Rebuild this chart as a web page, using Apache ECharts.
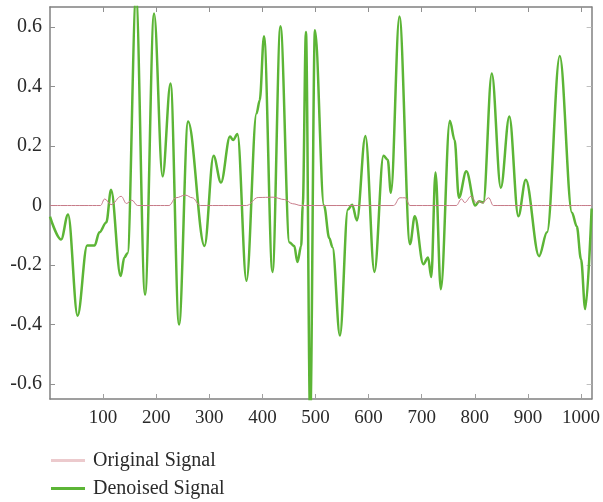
<!DOCTYPE html>
<html>
<head>
<meta charset="utf-8">
<title>Signal</title>
<script src="https://cdn.jsdelivr.net/npm/echarts@6/dist/echarts.min.js"></script>
<style>
  html, body { margin: 0; padding: 0; background: #fff; }
  #chart { width: 603px; height: 502px; }
</style>
</head>
<body>
<div id="chart"></div>
<script>
// 去噪信号
var denoisedX = [0, 21, 34, 52, 70, 84, 93, 106, 115, 133, 140, 146, 162, 179, 196, 212, 227, 243, 260,
  291, 308, 322, 339, 345, 353, 370, 389, 395, 403, 419, 434, 451, 460, 466, 473, 476, 482, 490, 499,
  516, 526, 532, 546, 561, 569, 578, 594, 611, 628, 636, 642, 658, 678, 687, 703, 712, 718, 726, 736,
  753, 762, 770, 784, 801, 808, 816, 832, 849, 865, 882, 896, 921, 936, 960, 983, 992, 1000, 1008, 1020];
var denoisedY = [-0.037, -0.114, -0.03, -0.37, -0.134, -0.134, -0.09, -0.057, 0.053, -0.237, -0.175, -0.16, 0.70, -0.30, 0.645, 0.098, 0.41, -0.40, 0.282,
  -0.136, 0.167, 0.077, 0.232, 0.22, 0.24, -0.253, 0.31, 0.354, 0.569, -0.223, 0.602, -0.124, -0.136, -0.19, -0.136, 0, 0.583, -0.72, 0.589,
  0, -0.11, -0.14, -0.437, -0.013, 0.003, -0.05, 0.234, -0.223, 0.167, 0.154, 0.043, 0.635, -0.13, -0.036, -0.197, -0.175, -0.24, 0.111, -0.281,
  0.285, 0.22, 0.026, 0.115, 0, 0.014, 0.01, 0.444, 0.06, 0.299, -0.036, 0.087, -0.17, -0.09, 0.502, -0.024, -0.07, -0.18, -0.348, -0.01];

// 原始信号
var originalX = [0, 95, 103, 115, 134, 144, 154, 165, 224, 237, 255, 268, 283, 370, 392, 420, 442, 457, 473,
  647, 659, 669, 678, 765, 775, 781, 793, 803, 809, 814, 826, 835, 1020];
var originalY = [0, 0, 0.022, 0.003, 0.031, 0.007, 0.018, 0, 0, 0.026, 0.035, 0.026, 0, 0, 0.027, 0.028, 0.02, 0.006, 0,
  0, 0.026, 0.026, 0, 0, 0.022, 0.01, 0.031, 0.01, 0.014, 0.008, 0.026, 0, 0];

var xTicks = [100, 200, 300, 400, 500, 600, 700, 800, 900, 1000];
var yTicks = [-0.6, -0.4, -0.2, 0, 0.2, 0.4, 0.6];
var seriesNames = ['Original Signal', 'Denoised Signal'];

function pairs(xs, ys) {
  var out = [];
  for (var i = 0; i < xs.length; i++) {
    out.push([xs[i], ys[i]]);
  }
  return out;
}

var fontFamily = '"Liberation Serif", "DejaVu Serif", serif';
var axisColor = '#808080';

var chart = echarts.init(document.getElementById('chart'));
chart.setOption({
  animation: false,
  grid: {
    left: 50,
    right: 7,
    top: 7,
    bottom: 103
  },
  legend: {
    orient: 'vertical',
    left: 51,
    top: 450,
    padding: 0,
    itemWidth: 34,
    itemHeight: 3,
    itemGap: 7,
    textStyle: {
      fontFamily: fontFamily,
      fontSize: 20,
      lineHeight: 21,
      color: '#2a2a2a',
      padding: [0, 0, 0, 3]
    },
    data: [{
      name: seriesNames[0],
      icon: 'rect',
      itemStyle: { color: '#eccacd' }
    }, {
      name: seriesNames[1],
      icon: 'rect',
      itemStyle: { color: '#5cb536' }
    }]
  },
  xAxis: [{
    type: 'value',
    min: 0,
    max: 1020,
    axisLine: { onZero: false, lineStyle: { color: axisColor, width: 1.5 } },
    axisTick: {
      inside: true,
      length: 5,
      customValues: xTicks,
      lineStyle: { color: '#a0a0a0' }
    },
    axisLabel: {
      customValues: xTicks,
      margin: 10,
      fontFamily: fontFamily,
      fontSize: 19,
      color: '#2a2a2a',
      formatter: function (v) {
        return String(v);
      }
    },
    splitLine: { show: false }
  }, {
    // 上边框
    type: 'value',
    position: 'top',
    min: 0,
    max: 1020,
    axisLine: { show: true, onZero: false, lineStyle: { color: axisColor, width: 1.5 } },
    axisTick: {
      inside: true,
      length: 5,
      customValues: xTicks,
      lineStyle: { color: '#909090' }
    },
    axisLabel: { show: false },
    splitLine: { show: false }
  }],
  yAxis: [{
    type: 'value',
    min: -0.65,
    max: 0.667,
    axisLine: { show: true, onZero: false, lineStyle: { color: axisColor, width: 1.5 } },
    axisTick: {
      show: true,
      inside: true,
      length: 5,
      customValues: yTicks,
      lineStyle: { color: '#909090' }
    },
    axisLabel: {
      customValues: yTicks,
      margin: 8,
      fontFamily: fontFamily,
      fontSize: 20,
      color: '#2a2a2a',
      formatter: function (v) {
        return v === 0 ? '0' : v.toFixed(1);
      }
    },
    splitLine: { show: false }
  }, {
    // 右边框
    type: 'value',
    position: 'right',
    min: -0.65,
    max: 0.667,
    axisLine: { show: true, onZero: false, lineStyle: { color: axisColor, width: 1.5 } },
    axisTick: {
      show: true,
      inside: true,
      length: 5,
      customValues: yTicks,
      lineStyle: { color: '#c0c0c0' }
    },
    axisLabel: { show: false },
    splitLine: { show: false }
  }],
  series: [{
    name: seriesNames[0],
    type: 'line',
    data: pairs(originalX, originalY),
    symbol: 'none',
    smooth: 0.4,
    smoothMonotone: 'x',
    z: 3,
    lineStyle: { color: '#c77a88', width: 1 },
    itemStyle: { color: '#eccacd' }
  }, {
    name: seriesNames[1],
    type: 'line',
    data: pairs(denoisedX, denoisedY),
    symbol: 'none',
    smooth: 0.35,
    smoothMonotone: 'x',
    z: 2,
    lineStyle: { color: '#5cb536', width: 2.5 },
    itemStyle: { color: '#5cb536' }
  }]
});
</script>
</body>
</html>
